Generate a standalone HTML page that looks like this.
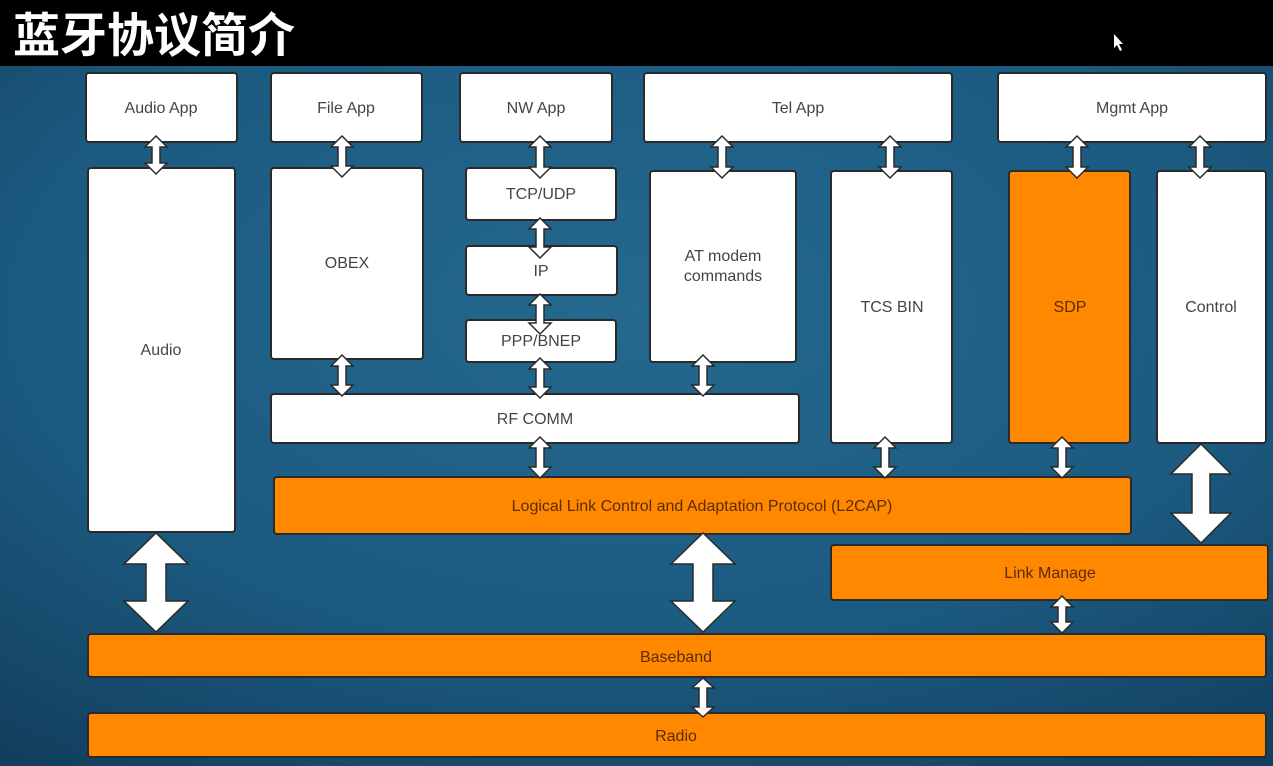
<!DOCTYPE html>
<html><head><meta charset="utf-8"><style>
html,body{margin:0;padding:0;width:1273px;height:766px;overflow:hidden;background:#000}
svg{display:block}
</style></head><body>
<svg width="1273" height="766" xmlns="http://www.w3.org/2000/svg" font-family="Liberation Sans, DejaVu Sans, sans-serif">
<defs>
<radialGradient id="bg" cx="0.5" cy="0.35" r="0.8">
<stop offset="0" stop-color="#24698f"/>
<stop offset="0.6" stop-color="#1c5a80"/>
<stop offset="1" stop-color="#123f5e"/>
</radialGradient>
</defs>
<rect x="0" y="0" width="1273" height="66" fill="#000"/>
<text x="13" y="52" fill="#fff" font-size="47" font-weight="bold" font-family="Noto Sans CJK SC, WenQuanYi Zen Hei, sans-serif">蓝牙协议简介</text>
<path d="M1114 34 L1114 48 L1117 45 L1120 51 L1122 50 L1119 44 L1123 44 Z" fill="#fff"/>
<rect x="0" y="66" width="1273" height="700" fill="url(#bg)"/>

<g stroke="#2a2a2a" stroke-width="2">
<g fill="#fff">
<rect x="86" y="73" width="151" height="69" rx="3"/>
<rect x="271" y="73" width="151" height="69" rx="3"/>
<rect x="460" y="73" width="152" height="69" rx="3"/>
<rect x="644" y="73" width="308" height="69" rx="3"/>
<rect x="998" y="73" width="268" height="69" rx="3"/>
<rect x="88" y="168" width="147" height="364" rx="3"/>
<rect x="271" y="168" width="152" height="191" rx="3"/>
<rect x="466" y="168" width="150" height="52" rx="3"/>
<rect x="466" y="246" width="151" height="49" rx="3"/>
<rect x="466" y="320" width="150" height="42" rx="3"/>
<rect x="650" y="171" width="146" height="191" rx="3"/>
<rect x="831" y="171" width="121" height="272" rx="3"/>
<rect x="1157" y="171" width="109" height="272" rx="3"/>
<rect x="271" y="394" width="528" height="49" rx="3"/>
</g>
<g fill="#ff8800">
<rect x="1009" y="171" width="121" height="272" rx="3"/>
<rect x="274" y="477" width="857" height="57" rx="3"/>
<rect x="831" y="545" width="437" height="55" rx="3"/>
<rect x="88" y="634" width="1178" height="43" rx="3"/>
<rect x="88" y="713" width="1178" height="44" rx="3"/>
</g>
</g>

<g font-size="16" fill="#444" text-anchor="middle">
<text x="161" y="113">Audio App</text>
<text x="346" y="113">File App</text>
<text x="536" y="113">NW App</text>
<text x="798" y="113">Tel App</text>
<text x="1132" y="113">Mgmt App</text>
<text x="161" y="355">Audio</text>
<text x="347" y="268">OBEX</text>
<text x="541" y="199">TCP/UDP</text>
<text x="541" y="276">IP</text>
<text x="541" y="346">PPP/BNEP</text>
<text x="723" y="261">AT modem</text>
<text x="723" y="281">commands</text>
<text x="892" y="312">TCS BIN</text>
<text x="1211" y="312">Control</text>
<text x="535" y="424">RF COMM</text>
</g>
<g font-size="16" fill="#5a2c05" text-anchor="middle">
<text x="1070" y="312">SDP</text>
<text x="702" y="511">Logical Link Control and Adaptation Protocol (L2CAP)</text>
<text x="1050" y="578">Link Manage</text>
<text x="676" y="662">Baseband</text>
<text x="676" y="741">Radio</text>
</g>

<g fill="#fff" stroke="#2a2a2a" stroke-width="1.5" stroke-linejoin="miter">
<path d="M156 136 L167 147 L160 147 L160 163 L167 163 L156 174 L145 163 L152 163 L152 147 L145 147 Z"/>
<path d="M342 136 L353 147 L346 147 L346 166 L353 166 L342 177 L331 166 L338 166 L338 147 L331 147 Z"/>
<path d="M540 136 L551 147 L544 147 L544 167 L551 167 L540 178 L529 167 L536 167 L536 147 L529 147 Z"/>
<path d="M722 136 L733 147 L726 147 L726 167 L733 167 L722 178 L711 167 L718 167 L718 147 L711 147 Z"/>
<path d="M890 136 L901 147 L894 147 L894 167 L901 167 L890 178 L879 167 L886 167 L886 147 L879 147 Z"/>
<path d="M1077 136 L1088 147 L1081 147 L1081 167 L1088 167 L1077 178 L1066 167 L1073 167 L1073 147 L1066 147 Z"/>
<path d="M1200 136 L1211 147 L1204 147 L1204 167 L1211 167 L1200 178 L1189 167 L1196 167 L1196 147 L1189 147 Z"/>
<path d="M540 218 L551 229 L544 229 L544 247 L551 247 L540 258 L529 247 L536 247 L536 229 L529 229 Z"/>
<path d="M540 294 L551 305 L544 305 L544 323 L551 323 L540 334 L529 323 L536 323 L536 305 L529 305 Z"/>
<path d="M342 355 L353 366 L346 366 L346 385 L353 385 L342 396 L331 385 L338 385 L338 366 L331 366 Z"/>
<path d="M540 358 L551 369 L544 369 L544 387 L551 387 L540 398 L529 387 L536 387 L536 369 L529 369 Z"/>
<path d="M703 355 L714 366 L707 366 L707 385 L714 385 L703 396 L692 385 L699 385 L699 366 L692 366 Z"/>
<path d="M540 437 L551 448 L544 448 L544 467 L551 467 L540 478 L529 467 L536 467 L536 448 L529 448 Z"/>
<path d="M885 437 L896 448 L889 448 L889 467 L896 467 L885 478 L874 467 L881 467 L881 448 L874 448 Z"/>
<path d="M1062 437 L1073 448 L1066 448 L1066 467 L1073 467 L1062 478 L1051 467 L1058 467 L1058 448 L1051 448 Z"/>
<path d="M1062 596 L1073 607 L1066 607 L1066 622 L1073 622 L1062 633 L1051 622 L1058 622 L1058 607 L1051 607 Z"/>
<path d="M703 678 L714 688 L707 688 L707 707 L714 707 L703 717 L692 707 L699 707 L699 688 L692 688 Z"/>
<path d="M156 533 L188 564 L166 564 L166 601 L188 601 L156 632 L124 601 L146 601 L146 564 L124 564 Z"/>
<path d="M703 533 L735 564 L713 564 L713 601 L735 601 L703 632 L671 601 L693 601 L693 564 L671 564 Z"/>
<path d="M1201 444 L1231 474 L1210 474 L1210 513 L1231 513 L1201 543 L1171 513 L1192 513 L1192 474 L1171 474 Z"/>
</g>
</svg>
</body></html>
